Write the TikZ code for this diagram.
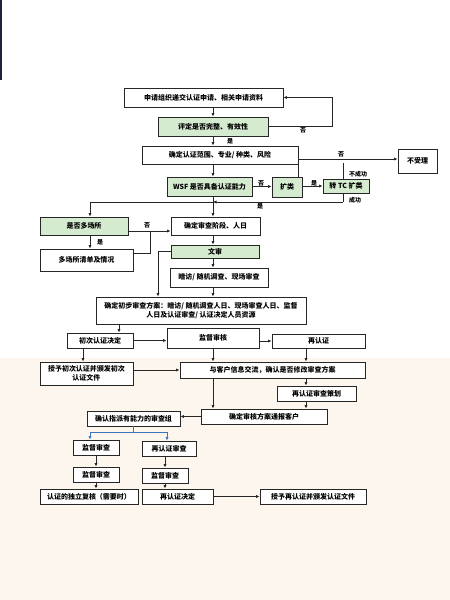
\documentclass[tikz,border=0pt]{standalone}
\usepackage{fontspec}
\setmainfont{Noto Sans CJK SC}
\usetikzlibrary{arrows.meta}
\definecolor{boxgreen}{RGB}{212,235,208}
\definecolor{bgpeach}{RGB}{253,246,238}
\definecolor{linkblue}{RGB}{60,115,195}
\definecolor{edgenavy}{RGB}{30,34,60}

\begin{document}
\begin{tikzpicture}[x=1pt,y=1pt,yscale=-1,xscale=1,
  box/.style={draw=black!85,line width=0.9pt,fill=white,inner sep=0pt,align=center,font=\fontsize{7}{9}\selectfont\bfseries},
  gbox/.style={box,fill=boxgreen},
  lbl/.style={inner sep=0pt,font=\fontsize{6}{7}\selectfont\bfseries},
  ln/.style={line width=0.8pt,draw=black!85},
  arr/.style={ln,-{Latex[length=3.5pt,width=3.2pt]}},
  bln/.style={line width=1pt,draw=linkblue},
  barr/.style={bln,-{Latex[length=3.5pt,width=3.2pt]}}]
\useasboundingbox (0,0) rectangle (450,600);

% background
\fill[bgpeach] (0,358) rectangle (450,600);
\fill[edgenavy] (0,0) rectangle (2,80);

% Boxes
\node[box,minimum width=159,minimum height=19] (apply) at (203.5,97.5) {申请组织递交认证申请、相关申请资料};
\node[gbox,minimum width=110,minimum height=19] (check) at (213,126.5) {评定是否完整、有效性};
\node[box,minimum width=156,minimum height=18] (scope) at (220,155) {确定认证范围、专业/ 种类、风险};
\node[box,minimum width=39,minimum height=24] (reject) at (417.5,161) {不受理};
\node[gbox,minimum width=85,minimum height=19] (wsf) at (209.5,186.5) {WSF 是否具备认证能力};
\node[gbox,minimum width=30,minimum height=20] (ext) at (287,187) {扩类};
\node[gbox,minimum width=46,minimum height=14] (tc) at (346,186) {转 TC 扩类};
\node[gbox,minimum width=88,minimum height=18] (multi) at (84,226) {是否多场所};
\node[box,minimum width=89,minimum height=18] (stage) at (215.5,226) {确定审查阶段、人日};
\node[box,minimum width=93,minimum height=22] (sites) at (86.5,260) {多场所清单及情况};
\node[gbox,minimum width=88,minimum height=13] (docrev) at (215,251.5) {文审};
\node[box,minimum width=98,minimum height=19] (visit) at (219,277.5) {暗访/ 随机调查、现场审查};
\node[box,minimum width=210,minimum height=27] (plan) at (201,310.5) {确定初步审查方案：暗访/ 随机调查人日、现场审查人日、监督\\人日及认证审查/ 认证决定人员资源};
\node[box,minimum width=66,minimum height=15] (initdec) at (100,340.5) {初次认证决定};
\node[box,minimum width=92,minimum height=20] (surv) at (213,338) {监督审核};
\node[box,minimum width=93,minimum height=14] (recert) at (318.5,341) {再认证};
\node[box,minimum width=93,minimum height=23] (grant1) at (86.5,373.5) {授予初次认证并颁发初次\\认证文件};
\node[box,minimum width=185,minimum height=16] (comm) at (272.5,370) {与客户信息交流，确认是否修改审查方案};
\node[box,minimum width=79,minimum height=15] (replan) at (316.5,393.5) {再认证审查策划};
\node[box,minimum width=126,minimum height=15] (notify) at (264,416.5) {确定审核方案通报客户};
\node[box,minimum width=93,minimum height=15] (team) at (133.5,418.5) {确认指派有能力的审查组};
\node[box,minimum width=46,minimum height=15] (survA) at (96,447.5) {监督审查};
\node[box,minimum width=54,minimum height=15] (recertA) at (169,448.5) {再认证审查};
\node[box,minimum width=46,minimum height=15] (survB) at (96,474.5) {监督审查};
\node[box,minimum width=46,minimum height=15] (survC) at (165,475.5) {监督审查};
\node[box,minimum width=98,minimum height=15] (review) at (89,496.5) {认证的独立复核（需要时）};
\node[box,minimum width=71,minimum height=15] (redec) at (177.5,496.5) {再认证决定};
\node[box,minimum width=106,minimum height=15] (grant2) at (313,496.5) {授予再认证并颁发认证文件};

% Columns and corners
\coordinate (mc) at (213,0);
\coordinate (rc) at (306,0);
\coordinate (cr) at (298,159);
\coordinate (fu) at (343,163);
\coordinate (fd) at (343,202);
\coordinate (hc) at (90,0);
\coordinate (hg) at (150,231);
\coordinate (ir) at (150,253);
\coordinate (jk) at (158,0);
\coordinate (km) at (119,0);
\coordinate (mp) at (83,0);
\coordinate (tb) at (133,432);
\coordinate (ul) at (90,432);
\coordinate (vr) at (167,432);
\coordinate (uc) at (96,0);
\coordinate (vc) at (165,0);

% Connectors, top part
\draw[arr] (apply.south -| mc) -- (check.north);
\draw[arr] (check.east) -- ++(64,0) |- (apply.east);
\node[lbl] at (303,130) {否};
\draw[arr] (check.south) -- (scope.north -| mc);
\node[lbl] at (230,141) {是};
\draw[arr] (cr) -- (cr -| reject.west);
\node[lbl] at (341,154) {否};
\draw[arr] (scope.south -| mc) -- (wsf.north -| mc);
\draw[arr] (wsf.east) -- (ext.west |- wsf.east);
\node[lbl] at (261,183) {否};
\draw[ln] (ext.north -| cr) -- (cr);
\draw[arr] (ext.east |- tc.west) -- (tc.west);
\node[lbl] at (314,183) {是};
\draw[ln] (tc.north -| fu) -- (fu);
\node[lbl,anchor=west] at (349,174) {不成功};
\draw[ln] (tc.south -| fd) -- (fd);
\draw[arr] (fd) -- (fd -| mc);
\node[lbl,anchor=west] at (349,200) {成功};
\node[lbl] at (260,206) {是};

% Connectors, middle part
\draw[arr] (wsf.south -| mc) -- (stage.north -| mc);
\draw[arr] (fd -| mc) -| (multi.north -| hc);
\draw[arr] (multi.east |- hg) -- (stage.west |- hg);
\node[lbl] at (147,225) {否};
\draw[ln] (sites.east |- ir) -- (ir) -- (hg);
\draw[arr] (multi.south -| hc) -- (sites.north -| hc);
\node[lbl] at (100,242) {是};
\draw[arr] (stage.south -| mc) -- (docrev.north -| mc);
\draw[arr] (docrev.west) -| (plan.north -| jk);
\draw[arr] (docrev.south -| mc) -- (visit.north -| mc);
\draw[arr] (visit.south -| mc) -- (plan.north -| mc);
\draw[arr] (plan.south -| km) -- (initdec.north -| km);
\draw[arr] (initdec.east) -- (initdec.east -| surv.west);
\draw[arr] (surv.east |- recert.west) -- (recert.west);
\draw[arr] (initdec.south -| mp) -- (grant1.north -| mp);
\draw[arr] (surv.south -| mc) -- (comm.north -| mc);
\draw[arr] (recert.south -| rc) -- (comm.north -| rc);
\draw[arr] (grant1.east |- comm.west) -- (comm.west);
\draw[arr] (comm.south -| rc) -- (replan.north -| rc);
\draw[arr] (replan.south -| rc) -- (notify.north -| rc);
\draw[arr] (comm.south -| mc) -- (notify.north -| mc);
\draw[arr] (notify.west) -- (notify.west -| team.east);

% Connectors, bottom part
\draw[bln] (team.south -| tb) -- (tb);
\draw[bln] (ul) -- (vr);
\draw[barr] (ul) -- (survA.north -| ul);
\draw[barr] (vr) -- (recertA.north -| vr);
\draw[arr] (survA.south -| uc) -- (survB.north -| uc);
\draw[arr] (survB.south -| uc) -- (review.north -| uc);
\draw[arr] (recertA.south -| vc) -- (survC.north -| vc);
\draw[arr] (survC.south -| vc) -- (redec.north -| vc);
\draw[arr] (redec.east) -- (grant2.west);
\end{tikzpicture}
\end{document}
